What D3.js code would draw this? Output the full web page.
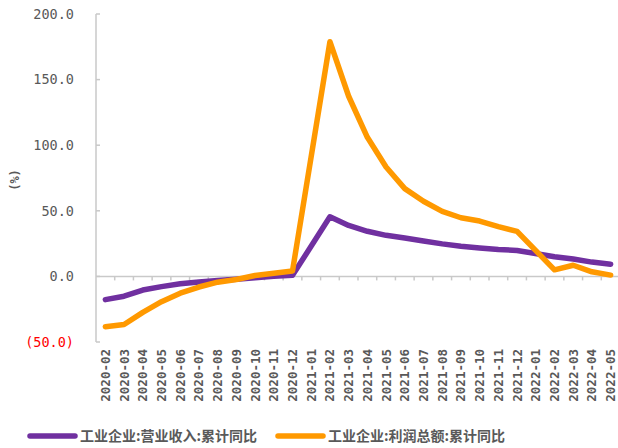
<!DOCTYPE html>
<html>
<head>
<meta charset="utf-8">
<script src="https://cdn.jsdelivr.net/npm/d3@7"></script>
<style>
  body { margin: 0; background: #fff; }
  svg { display: block; }
</style>
</head>
<body>
<svg class="visSVG"></svg>
<script>
const svgWidth = 618;
const svgHeight = 448;

// months on the x axis
const months = ["2020-02", "2020-03", "2020-04", "2020-05", "2020-06", "2020-07", "2020-08", "2020-09", "2020-10", "2020-11", "2020-12",
    "2021-01", "2021-02", "2021-03", "2021-04", "2021-05", "2021-06", "2021-07", "2021-08", "2021-09", "2021-10", "2021-11", "2021-12",
    "2022-01", "2022-02", "2022-03", "2022-04", "2022-05"];

// 营业收入 累计同比 (no January data)
const revenue = [-17.7, -15.1, -10.4, -7.8, -5.6, -4.3, -3.2, -2.1, -1.0, 0.1, 0.8,
    null, 45.4, 38.8, 34.4, 31.3, 29.2, 27.0, 24.8, 23.0, 21.6, 20.5, 19.8,
    null, 15.0, 13.3, 10.9, 9.3];

// 利润总额 累计同比
const profit = [-38.3, -36.7, -27.4, -19.3, -12.8, -8.1, -4.4, -2.4, 0.7, 2.4, 4.1,
    null, 178.9, 137.3, 106.0, 83.4, 66.9, 57.3, 49.5, 44.7, 42.2, 38.0, 34.3,
    null, 5.0, 8.5, 3.5, 1.0];

const yTicks = [200, 150, 100, 50, 0, -50];

const seriesNames = ["工业企业:营业收入:累计同比", "工业企业:利润总额:累计同比"];
const colours = ["#7030a0", "#ff9900"];

const svg = d3.select('.visSVG')
    .attr("width", svgWidth)
    .attr("height", svgHeight);

var margin = { top: 14, left: 96, right: -2, bottom: 106 };
var innerHeight = svgHeight - margin.top - margin.bottom;
var innerWidth = svgWidth - margin.left - margin.right;

const graph = svg.append("g")
    .attr("transform", "translate(" + margin.left + "," + margin.top + ")");

const yScale = d3.scaleLinear()
    .domain([-50, 200])
    .range([innerHeight, 0]);

const xScale = d3.scaleBand()
    .domain(months)
    .range([0, innerWidth]);

const axisColour = "#c9c9c9";
const textColour = "#595959";

// Y AXIS
graph.append("line")
    .attr("x1", 0).attr("x2", 0)
    .attr("y1", yScale(200)).attr("y2", yScale(-50))
    .attr("stroke", axisColour).attr("stroke-width", 1.5);

graph.selectAll(".ytick")
    .data(yTicks).enter().append("line")
        .attr("x1", 0).attr("x2", 4)
        .attr("y1", d => yScale(d)).attr("y2", d => yScale(d))
        .attr("stroke", axisColour).attr("stroke-width", 1.5);

graph.selectAll(".ylabel")
    .data(yTicks).enter().append("text")
        .attr("x", -22)
        .attr("y", d => yScale(d))
        .attr("dy", "0.36em")
        .attr("text-anchor", "end")
        .style("font-family", "'DejaVu Sans Mono', monospace")
        .style("font-size", "13.5px")
        .attr("fill", d => d < 0 ? "#ff0000" : textColour)
        .text(d => d < 0 ? "(" + d3.format(".1f")(-d) + ")" : d3.format(".1f")(d));

svg.append("text")
    .attr("transform", "translate(15,180) rotate(-90)")
    .attr("text-anchor", "middle")
    .attr("dy", "0.35em")
    .style("font-family", "'DejaVu Sans Mono', monospace")
    .style("font-size", "12px")
    .style("font-weight", "bold")
    .attr("fill", textColour)
    .text("(%)");

// X AXIS (at zero)
graph.append("line")
    .attr("x1", 0).attr("x2", innerWidth)
    .attr("y1", yScale(0)).attr("y2", yScale(0))
    .attr("stroke", axisColour).attr("stroke-width", 1.5);

graph.selectAll(".xtick")
    .data(months.slice(1)).enter().append("line")
        .attr("x1", d => xScale(d)).attr("x2", d => xScale(d))
        .attr("y1", yScale(0)).attr("y2", yScale(0) + 4)
        .attr("stroke", axisColour).attr("stroke-width", 1.5);

graph.selectAll(".xlabel")
    .data(months).enter().append("text")
        .attr("transform", d => "translate(" + (xScale(d) + xScale.bandwidth() / 2) + "," + (yScale(-50) + 7) + ") rotate(-90)")
        .attr("text-anchor", "end")
        .attr("dy", "0.36em")
        .style("font-family", "'DejaVu Sans Mono', monospace")
        .style("font-size", "12.5px")
        .style("font-weight", "bold")
        .attr("fill", textColour)
        .text(d => d);

// LINES
const line = d3.line()
    .x(d => xScale(d.month) + xScale.bandwidth() / 2)
    .y(d => yScale(d.value));

[revenue, profit].forEach(function (values, i) {
    var points = months.map((m, j) => ({ month: m, value: values[j] }))
        .filter(d => d.value !== null);
    graph.append("path")
        .datum(points)
        .attr("d", line)
        .attr("fill", "none")
        .attr("stroke", colours[i])
        .attr("stroke-width", 5.5)
        .attr("stroke-linejoin", "round")
        .attr("stroke-linecap", "round");
});

// LEGEND
const legendX = [30, 278];
const legend = svg.selectAll(".legend")
    .data(seriesNames).enter().append("g")
        .attr("transform", (d, i) => "translate(" + legendX[i] + ",436)");

legend.append("line")
    .attr("x1", 0).attr("x2", 45)
    .attr("stroke", (d, i) => colours[i])
    .attr("stroke-width", 5.5)
    .attr("stroke-linecap", "round");

legend.append("text")
    .attr("x", 50)
    .attr("dy", "0.36em")
    .style("font-family", "'Noto Sans CJK SC', sans-serif")
    .style("font-size", "14px")
    .style("font-weight", "bold")
    .attr("fill", textColour)
    .text(d => d);
</script>
</body>
</html>
